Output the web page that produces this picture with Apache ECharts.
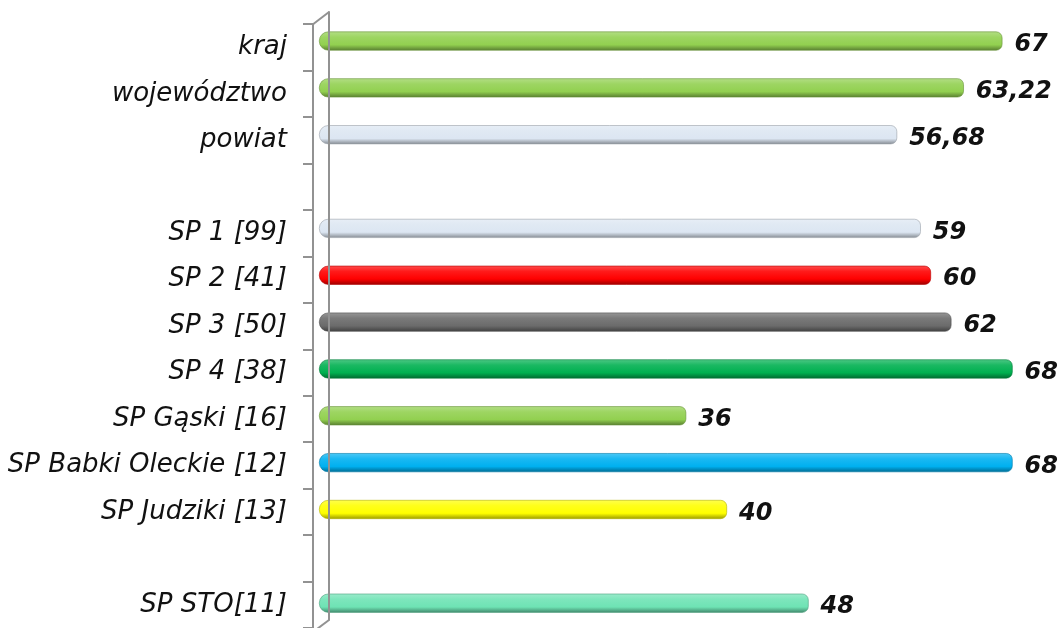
<!DOCTYPE html>
<html><head><meta charset="utf-8">
<script src="https://cdn.jsdelivr.net/npm/echarts@6/dist/echarts.min.js"></script>
<style>html,body{margin:0;padding:0;background:#fff}#c{width:1060px;height:628px}</style>
</head><body><div id="c"></div>
<script>
const categories = ['kraj','województwo','powiat',' ','SP 1 [99]','SP 2 [41]','SP 3 [50]','SP 4 [38]','SP Gąski [16]','SP Babki Oleckie [12]','SP Judziki [13]','  ','SP STO[11]'];
const values = [67, 63.22, 56.68, null, 59, 60, 62, 68, 36, 68, 40, null, 48];
const barColors = ['#92D050','#92D050','#DCE6F2','#DCE6F2','#FF0000','#6B6B6B','#00B050','#92D050','#00B0F0','#FFFF00','#6EE3B4'];

function mix(hex, t, target){
  const n = parseInt(hex.slice(1),16);
  let r=(n>>16)&255,g=(n>>8)&255,b=n&255;
  r=Math.round(r+(target-r)*t);g=Math.round(g+(target-g)*t);b=Math.round(b+(target-b)*t);
  return 'rgb('+r+','+g+','+b+')';
}
function grad(c){
  return {type:'linear',x:0,y:0,x2:0,y2:1,colorStops:[
    {offset:0,color:mix(c,0.3,255)},
    {offset:0.3,color:mix(c,0.1,255)},
    {offset:0.7,color:c},
    {offset:1,color:mix(c,0.4,0)}]};
}
let ci = 0;
const barData = values.map(v => {
  if (v === null) return null;
  const c = barColors[ci++];
  return {value:v, itemStyle:{color:grad(c), borderColor:mix(c,0.3,0), borderWidth:0.6}};
});

const chart = echarts.init(document.getElementById('c'));
const axisGray = '#929292';
chart.setOption({
  animation:false,
  grid:[
    {left:319, top:17.6, width:714, height:609},
    {left:313, top:24.2, width:714, height:608.4},
    {left:329, top:12, width:10, height:608}
  ],
  xAxis:[
    {gridIndex:0, type:'value', min:0, max:70, show:false},
    {gridIndex:1, type:'value', min:0, max:70, show:false},
    {gridIndex:2, type:'value', min:0, max:1, show:false}
  ],
  yAxis:[
    {gridIndex:0, type:'category', inverse:true, data:categories, show:false},
    {gridIndex:1, type:'category', inverse:true, data:categories,
     axisLine:{show:true, lineStyle:{color:axisGray,width:2}},
     axisTick:{show:true, interval:0, length:10, lineStyle:{color:axisGray,width:2}},
     axisLabel:{interval:0, margin:26, fontFamily:'DejaVu Sans', fontStyle:'italic', fontSize:26, color:'#111'}},
    {gridIndex:2, type:'category', inverse:true, data:categories, z:10,
     axisLine:{show:true, lineStyle:{color:axisGray,width:2}}, axisTick:{show:false}, axisLabel:{show:false}}
  ],
  series:[{
    type:'bar', xAxisIndex:0, yAxisIndex:0, data:barData, barWidth:19,
    itemStyle:{borderRadius:[9,6,6,9]},
    label:{show:true, position:'right', distance:12, offset:[0,4], fontFamily:'DejaVu Sans', fontStyle:'italic', fontWeight:'bold', fontSize:24, color:'#111',
      formatter:p => String(p.value).replace('.',',')}
  }],
  graphic:[
    {type:'line', z:10, shape:{x1:313,y1:24.2,x2:329,y2:12}, style:{stroke:axisGray,lineWidth:2}},
    {type:'line', z:10, shape:{x1:329,y1:620,x2:313,y2:632}, style:{stroke:axisGray,lineWidth:2}}
  ]
});
</script></body></html>
